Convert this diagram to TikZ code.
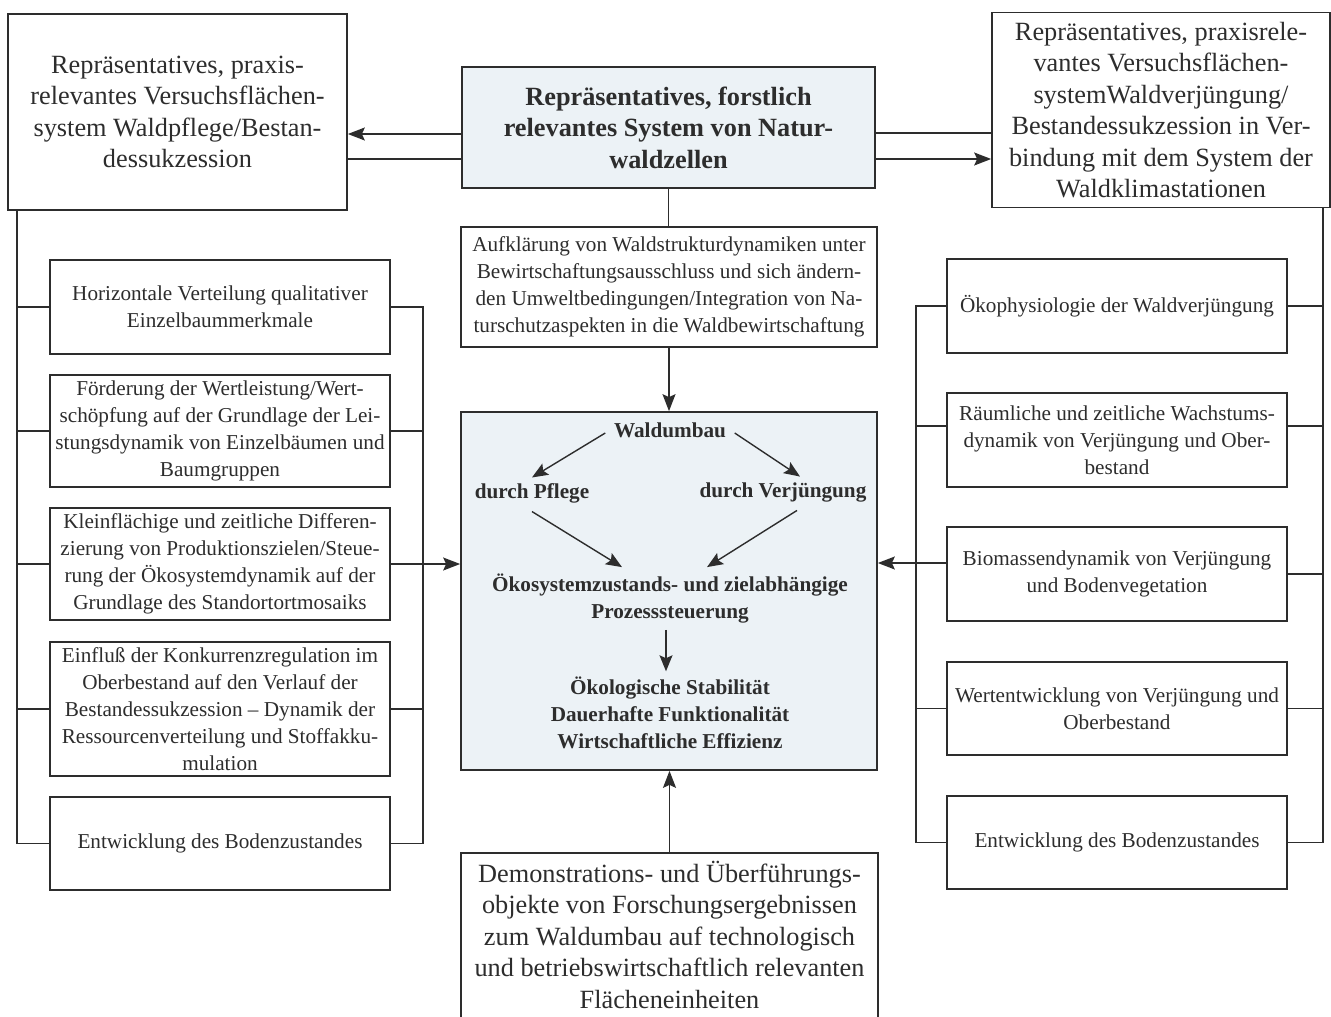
\documentclass[tikz,border=0pt]{standalone}
\usepackage{fontspec}
\setmainfont{Liberation Serif}
\usetikzlibrary{arrows.meta,calc}
\definecolor{ink}{RGB}{45,45,45}
\definecolor{boxfill}{RGB}{236,242,246}
\newcommand\mysmall{\fontsize{21.2}{27}\selectfont}
\newcommand\mybig{\fontsize{26.3}{31.5}\selectfont}
\begin{document}
\begin{tikzpicture}[x=1pt,y=1pt,line width=1.5pt,draw=ink,text=ink,
  box/.style={draw=ink,line width=1.7pt,inner sep=0pt,align=center},
  sbox/.style={box,font=\mysmall,minimum width=340pt},
  lbl/.style={inner sep=0pt,align=center,font=\mysmall\bfseries},
  arr/.style={-{Stealth[length=17pt,width=13pt,inset=3pt]}},
  arrin/.style={line width=1.4pt,-{Stealth[length=16pt,width=13pt,inset=3pt]}}]
\useasboundingbox[fill=white] (0,0) rectangle (1331,-1017);

% top row
\node[box,font=\mybig,minimum width=339pt,minimum height=196pt] (tl) at (177.5,-112)
 {Repräsentatives, praxis-\\relevantes Versuchsflächen-\\system Waldpflege/Bestan-\\dessukzession};
\node[box,font=\mybig,minimum width=338pt,minimum height=195pt] (tr) at (1161,-110)
 {Repräsentatives, praxisrele-\\vantes Versuchsflächen-\\systemWaldverjüngung/\\Bestandessukzession in Ver-\\bindung mit dem System der\\Waldklimastationen};
\node[box,fill=boxfill,font=\mybig\bfseries,minimum width=413pt,minimum height=121pt] (ctop) at (668.5,-127.5)
 {Repräsentatives, forstlich\\relevantes System von Natur-\\waldzellen};

% center column
\node[box,font=\mysmall,minimum width=416pt,minimum height=120pt] (cmid) at (669,-287)
 {Aufklärung von Waldstrukturdynamiken unter\\Bewirtschaftungsausschluss und sich ändern-\\den Umweltbedingungen/Integration von Na-\\turschutzaspekten in die Waldbewirtschaftung};
\node[box,fill=boxfill,minimum width=416pt,minimum height=358pt] (cbig) at (669,-591) {};
\node[inner sep=0pt,align=center,font=\mybig,minimum width=415pt,minimum height=161pt] (demo) at (669.5,-934.5)
 {Demonstrations- und Überführungs-\\objekte von Forschungsergebnissen\\zum Waldumbau auf technologisch\\und betriebswirtschaftlich relevanten\\Flächeneinheiten};
\draw[line width=1.7pt] ([yshift=-5pt]demo.south west) -- (demo.north west) -- (demo.north east) -- ([yshift=-5pt]demo.south east);

% inner content of center box
\node[lbl] (wald) at (670,-430) {Waldumbau};
\node[lbl] (pflege) at (532,-493) {durch Pflege};
\node[lbl] (verj) at (783,-492) {durch Verjüngung};
\node[lbl] (oeko) at (670,-598.5) {Ökosystemzustands- und zielabhängige\\Prozesssteuerung};
\node[lbl] (ziel) at (670,-713) {Ökologische Stabilität\\Dauerhafte Funktionalität\\Wirtschaftliche Effizienz};

\draw[arrin] ([xshift=-8pt,yshift=-3pt]wald.west) -- ([yshift=5pt]pflege.north);
\draw[arrin] ([xshift=8pt,yshift=-3pt]wald.east) -- ([xshift=17pt,yshift=5pt]verj.north);
\draw[arrin] ([yshift=-8pt]pflege.south) -- ([xshift=-48pt,yshift=6pt]oeko.north);
\draw[arrin] ([xshift=14pt,yshift=-8pt]verj.south) -- ([xshift=37pt,yshift=6pt]oeko.north);
\draw[arrin] ([xshift=-4pt,yshift=-6pt]oeko.south) -- ([xshift=-4pt,yshift=5pt]ziel.north);

% left column
\node[sbox,minimum height=94pt] (l1) at (220,-307)
 {Horizontale Verteilung qualitativer\\Einzelbaummerkmale};
\node[sbox,minimum height=112pt] (l2) at (220,-431)
 {Förderung der Wertleistung/Wert-\\schöpfung auf der Grundlage der Lei-\\stungsdynamik von Einzelbäumen und\\Baumgruppen};
\node[sbox,minimum height=112pt] (l3) at (220,-564)
 {Kleinflächige und zeitliche Differen-\\zierung von Produktionszielen/Steue-\\rung der Ökosystemdynamik auf der\\Grundlage des Standortortmosaiks};
\node[sbox,minimum height=134pt] (l4) at (220,-709)
 {Einfluß der Konkurrenzregulation im\\Oberbestand auf den Verlauf der\\Bestandessukzession – Dynamik der\\Ressourcenverteilung und Stoffakku-\\mulation};
\node[sbox,minimum height=93pt] (l5) at (220,-843.5)
 {Entwicklung des Bodenzustandes};

% right column
\node[sbox,minimum height=94pt] (r1) at (1117,-306)
 {Ökophysiologie der Waldverjüngung};
\node[sbox,minimum height=94pt] (r2) at (1117,-440)
 {Räumliche und zeitliche Wachstums-\\dynamik von Verjüngung und Ober-\\bestand};
\node[sbox,minimum height=94pt] (r3) at (1117,-574)
 {Biomassendynamik von Verjüngung\\und Bodenvegetation};
\node[sbox,minimum height=93pt] (r4) at (1117,-708.5)
 {Wertentwicklung von Verjüngung und\\Oberbestand};
\node[sbox,minimum height=93pt] (r5) at (1117,-842.5)
 {Entwicklung des Bodenzustandes};

% top connectors
\coordinate (ca1) at ([yshift=-6.5pt]ctop.west);
\coordinate (ca2) at ([yshift=-31.5pt]ctop.west);
\coordinate (cb1) at ([yshift=-5.5pt]ctop.east);
\coordinate (cb2) at ([yshift=-31.5pt]ctop.east);
\draw[arr] (ca1) -- (ca1 -| tl.east);
\draw (ca2) -- (ca2 -| tl.east);
\draw (cb1) -- (cb1 -| tr.west);
\draw[arr] (cb2) -- (cb2 -| tr.west);

% center verticals
\draw (ctop.south) -- (ctop.south |- cmid.north);
\draw[arr] (cmid.south) -- (cmid.south |- cbig.north);
\draw[arr] (demo.north) -- (demo.north |- cbig.south);

% left outer line
\coordinate (lol) at ([xshift=10pt]tl.south west);
\draw (lol) -- (lol |- l5.west) -- (l5.west);
\foreach \n in {l1,l2,l3,l4} \draw (\n.west) -- (\n.west -| lol);

% left bracket
\coordinate (lbr) at (423,0);
\draw (l1.east) -- (l1.east -| lbr) -- (l5.east -| lbr) -- (l5.east);
\foreach \n in {l2,l4} \draw (\n.east) -- (\n.east -| lbr);
\draw[arr] (l3.east) -- (l3.east -| cbig.west);

% right outer line
\coordinate (ror) at ([xshift=-8pt]tr.south east);
\coordinate (r2e) at ([yshift=14pt]r2.east);
\draw (ror) -- (ror |- r5.east) -- (r5.east);
\foreach \n in {r1,r2e,r3,r4} \draw (\n) -- (\n -| ror);

% right bracket
\coordinate (rbl) at (916,0);
\coordinate (r2w) at ([yshift=14pt]r2.west);
\coordinate (r3w) at ([yshift=11pt]r3.west);
\draw (r1.west) -- (r1.west -| rbl) -- (r5.west -| rbl) -- (r5.west);
\foreach \n in {r2w,r4.west} \draw (\n) -- (\n -| rbl);
\draw[arr] (r3w) -- (r3w -| cbig.east);
\end{tikzpicture}
\end{document}
